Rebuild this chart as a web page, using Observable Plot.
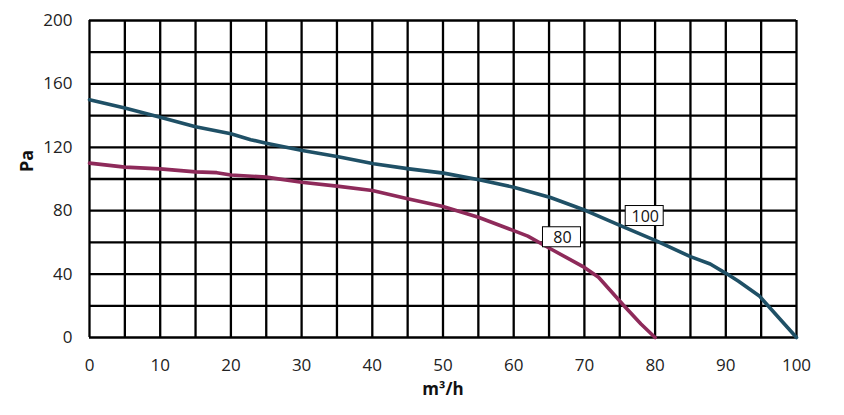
<!DOCTYPE html>
<html><head><meta charset="utf-8">
<script src="https://cdn.jsdelivr.net/npm/d3@7"></script>
<script src="https://cdn.jsdelivr.net/npm/@observablehq/plot@0.6"></script>
<style>body{margin:0;background:#fff}</style>
</head><body><div id="chart"></div>
<script>
// Fan curves: airflow (m³/h) vs pressure (Pa)
const curve100X = [0, 5, 10, 15, 20, 22.8, 25, 30.1, 35, 40.2, 45.2, 50.1, 55.1, 60, 65.2, 70.2, 75.1, 80.1, 85, 87.8, 90.2, 91.8, 94.7, 100];
const curve100Y = [150, 144.8, 139, 133, 128.5, 124.8, 122.6, 118, 114.2, 109.6, 106.4, 103.7, 99.5, 94.8, 88.3, 80.1, 70.6, 61.1, 51, 46.4, 40, 35.5, 26.4, 0];
const curve80X = [0, 5, 10, 15, 18, 20, 25, 30, 35, 40, 45, 50, 55, 60, 62, 65, 70, 72, 75.6, 78, 80];
const curve80Y = [110, 107.5, 106.4, 104.5, 104, 102.5, 101.2, 98, 95.5, 92.7, 87.5, 82.6, 75.9, 67.4, 64, 56.5, 44.2, 38, 20, 8.5, 0];
const labelNames = ["100", "80"];
const labelX = [78.6, 66.9];
const labelY = [76.4, 63];
const xTicks = [0, 10, 20, 30, 40, 50, 60, 70, 80, 90, 100];
const yTicks = [0, 40, 80, 120, 160, 200];
const gridX = d3.range(0, 101, 5);
const gridY = d3.range(0, 201, 20);
const xTitle = "m³/h";
const yTitle = "Pa";

const s100 = curve100X.map((x, i) => ({x, y: curve100Y[i]}));
const s80 = curve80X.map((x, i) => ({x, y: curve80Y[i]}));
const labels = labelNames.map((t, i) => ({t, x: labelX[i], y: labelY[i]}));

const chart = Plot.plot({
  width: 844, height: 415,
  marginLeft: 89, marginRight: 48, marginTop: 20, marginBottom: 78,
  style: {fontFamily: "'Open Sans', sans-serif", fontSize: "17px", color: "#222", background: "#fff"},
  x: {domain: [0, 100]},
  y: {domain: [0, 200]},
  marks: [
    Plot.ruleX(gridX, {stroke: "#000", strokeWidth: 2.3}),
    Plot.ruleY(gridY, {stroke: "#000", strokeWidth: 2.3}),
    Plot.axisX({ticks: xTicks, tickSize: 0, tickPadding: 21, label: null, fontSize: 17}),
    Plot.axisY({ticks: yTicks, tickSize: 0, tickPadding: 17, label: null, fontSize: 17}),
    Plot.line(s100, {x: "x", y: "y", stroke: "#1f5066", strokeWidth: 3.6, strokeLinejoin: "round"}),
    Plot.line(s80, {x: "x", y: "y", stroke: "#8e2a5a", strokeWidth: 3.6, strokeLinejoin: "round"}),
    Plot.text(labels, {x: "x", y: "y", text: "t", fontSize: 16, fill: "#111", className: "curve-label"}),
    Plot.text([xTitle], {frameAnchor: "bottom", dy: 57, fontWeight: "bold", fontSize: 17, fill: "#111"}),
    Plot.text([yTitle], {frameAnchor: "left", dx: -62, dy: -7, rotate: -90, fontWeight: "bold", fontSize: 18, fill: "#111"})
  ]
});
document.getElementById("chart").append(chart);

// white boxes with black border behind the curve labels
const svg = d3.select(chart);
svg.selectAll("g.curve-label text").each(function() {
  const b = this.getBBox();
  const cx = b.x + b.width / 2, cy = b.y + b.height / 2;
  const w = 38, h = 20;
  const ctm = this.getAttribute("transform");
  const r = document.createElementNS("http://www.w3.org/2000/svg", "rect");
  r.setAttribute("x", cx - w / 2 - 1);
  r.setAttribute("y", cy - h / 2);
  r.setAttribute("width", w);
  r.setAttribute("height", h);
  r.setAttribute("fill", "#fff");
  r.setAttribute("stroke", "#000");
  r.setAttribute("stroke-width", "1");
  if (ctm) r.setAttribute("transform", ctm);
  this.parentNode.insertBefore(r, this);
});
</script>
</body></html>
